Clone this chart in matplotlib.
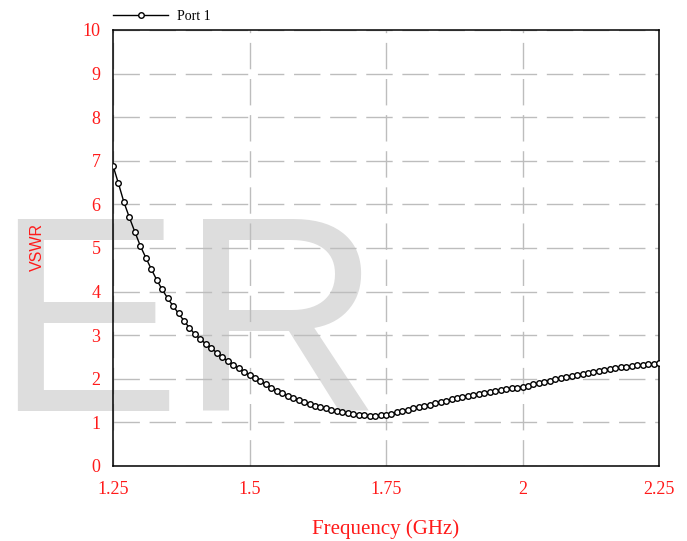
import numpy as np
import matplotlib
matplotlib.use('Agg')
from matplotlib import pyplot as plt

# frequency points (GHz), 0.01 step
freq = np.round(np.arange(1.25, 2.2501, 0.01), 2)

# VSWR
vswr = [6.89, 6.48, 6.05, 5.70, 5.37, 5.05, 4.78, 4.52, 4.27, 4.05,
        3.85, 3.67, 3.50, 3.33, 3.17, 3.02, 2.91, 2.80, 2.70, 2.60,
        2.50, 2.41, 2.32, 2.24, 2.16, 2.09, 2.02, 1.94, 1.87, 1.80,
        1.73, 1.67, 1.61, 1.56, 1.51, 1.46, 1.42, 1.38, 1.35, 1.32,
        1.29, 1.26, 1.23, 1.21, 1.19, 1.17, 1.16, 1.15, 1.15, 1.16,
        1.18, 1.20, 1.23, 1.26, 1.29, 1.32, 1.35, 1.38, 1.41, 1.44,
        1.47, 1.50, 1.53, 1.56, 1.59, 1.61, 1.63, 1.65, 1.68, 1.70,
        1.72, 1.74, 1.76, 1.78, 1.80, 1.82, 1.84, 1.87, 1.90, 1.93,
        1.96, 1.99, 2.02, 2.04, 2.07, 2.09, 2.11, 2.14, 2.16, 2.18,
        2.20, 2.22, 2.24, 2.26, 2.28, 2.29, 2.31, 2.32, 2.34, 2.35,
        2.37]

xticks = [1.25, 1.5, 1.75, 2, 2.25]
xtick_labels = ['1.25', '1.5', '1.75', '2', '2.25']
yticks = list(range(0, 11))

red = '#ff1a1a'
serif = 'Liberation Serif'


def main():
    fig = plt.figure(figsize=(6.87, 5.41), dpi=100)
    fig.patch.set_facecolor('white')

    # big grey watermark behind the plot
    fig.text(-6 / 687, 1 - 411 / 541, 'ER', fontsize=201, family='Liberation Sans',
             color='#dddddd', ha='left', va='baseline', zorder=-1)

    ax = fig.add_axes([113 / 687, 1 - 466 / 541, 546 / 687, 436 / 541])
    ax.set_facecolor('none')

    ax.plot(freq, vswr, color='black', lw=1.0, marker='o', ms=4,
            mfc='white', mec='black', mew=1.0, label='Port 1', zorder=3)

    ax.set_xlim(1.25, 2.25)
    ax.set_ylim(0, 10)
    ax.set_xticks(xticks)
    ax.set_xticklabels(xtick_labels)
    ax.set_yticks(yticks)

    ax.grid(True, color='#bdbdbd', lw=1.0, linestyle=(0, (19, 7)))
    ax.set_axisbelow(True)

    for s in ax.spines.values():
        s.set_color('black')
        s.set_linewidth(1.1)

    ax.tick_params(length=0, labelcolor=red, labelsize=13)
    ax.tick_params(axis='x', pad=11)
    ax.tick_params(axis='y', pad=9)
    for lab in ax.get_xticklabels() + ax.get_yticklabels():
        lab.set_family(serif)

    ax.set_xlabel('Frequency (GHz)', color=red, fontsize=15, family=serif, labelpad=15)
    ax.set_ylabel('VSWR', color=red, fontsize=11.5, family='Liberation Sans')
    ax.yaxis.set_label_coords(-0.139, 0.502)
    ax.yaxis.label.set_verticalalignment('center')

    ax.legend(loc='center left', bbox_to_anchor=(113 / 687, 1 - 16 / 541),
              bbox_transform=fig.transFigure, frameon=False, numpoints=1,
              borderpad=0, borderaxespad=0, handlelength=3.96,
              handletextpad=0.65, prop={'family': serif, 'size': 10})

    fig.savefig('out.png', dpi=100)


if __name__ == '__main__':
    main()
